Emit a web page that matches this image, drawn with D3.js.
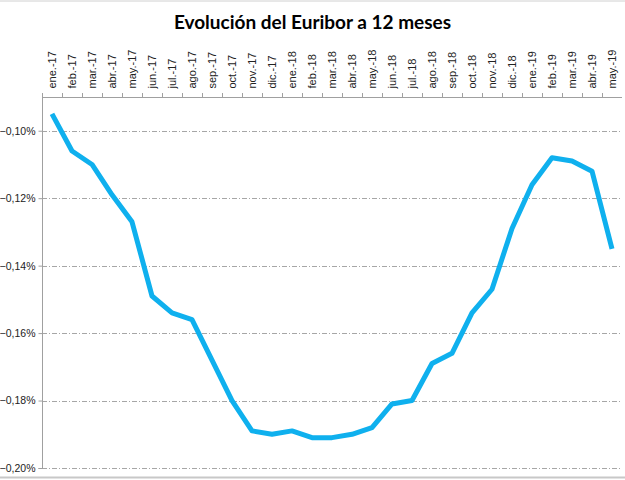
<!DOCTYPE html>
<html>
<head>
<meta charset="utf-8">
<script src="https://cdn.jsdelivr.net/npm/d3@7"></script>
<style>
body { margin: 0; background: #fff; }
</style>
</head>
<body>
<div id="chart"></div>
<script>
// meses y valores (Euribor 12m, %)
var months = ["ene.-17","feb.-17","mar.-17","abr.-17","may.-17","jun.-17","jul.-17","ago.-17","sep.-17","oct.-17","nov.-17","dic.-17",
  "ene.-18","feb.-18","mar.-18","abr.-18","may.-18","jun.-18","jul.-18","ago.-18","sep.-18","oct.-18","nov.-18","dic.-18",
  "ene.-19","feb.-19","mar.-19","abr.-19","may.-19"];
var euribor = [-0.095,-0.106,-0.110,-0.119,-0.127,-0.149,-0.154,-0.156,-0.168,-0.180,-0.189,-0.190,
  -0.189,-0.191,-0.191,-0.190,-0.188,-0.181,-0.180,-0.169,-0.166,-0.154,-0.147,-0.129,
  -0.116,-0.108,-0.109,-0.112,-0.135];
var yTicks = [-0.10,-0.12,-0.14,-0.16,-0.18,-0.20];

var svgWidth = 625, svgHeight = 480;
var plotL = 42, plotR = 622, plotT = 97, plotB = 468;

var svg = d3.select("#chart").append("svg").attr("width", svgWidth).attr("height", svgHeight)
  .style("font-family", "Lato, 'Open Sans', sans-serif");

// spreadsheet cell borders at top and bottom edge
svg.append("line").attr("x1", 0).attr("x2", svgWidth).attr("y1", 1).attr("y2", 1).attr("stroke", "#d0d0d0");
svg.append("line").attr("x1", 0).attr("x2", svgWidth).attr("y1", 477.5).attr("y2", 477.5).attr("stroke", "#c8c8c8").attr("stroke-width", 2);

var x = d3.scaleBand().domain(months).range([plotL, plotR]);
var y = d3.scaleLinear().domain([-0.20, -0.09]).range([plotB, plotT]);

// gridlines
svg.selectAll(".grid").data(yTicks).enter().append("line")
  .attr("x1", plotL).attr("x2", plotR)
  .attr("y1", d => Math.round(y(d)) + 0.5).attr("y2", d => Math.round(y(d)) + 0.5)
  .attr("stroke", "#a6a6a6").attr("stroke-dasharray", "5,2,1,2");

// y axis
var yAxis = d3.axisLeft(y).tickValues(yTicks).tickSize(4).tickPadding(3)
  .tickFormat(d => d3.format(".2f")(d).replace(".", ",") + "%");
var gy = svg.append("g").attr("transform", "translate(" + (plotL + 0.5) + ",0)").call(yAxis);
gy.select(".domain").attr("stroke", "#a0a0a0").attr("d", "M-4," + (plotB + 0.5) + "H0V" + plotT);
gy.selectAll(".tick line").attr("stroke", "#a0a0a0");
gy.selectAll(".tick text").attr("font-size", "10.5px").attr("fill", "#222");

// top axis with month labels
var gx = svg.append("g").attr("transform", "translate(0," + (plotT + 0.5) + ")")
  .call(d3.axisTop(x).tickSize(0).tickPadding(9));
gx.select(".domain").attr("stroke", "#a0a0a0").attr("d", "M" + plotL + ",0H" + plotR);
gx.selectAll(".tick text")
  .attr("font-size", "11px").attr("fill", "#222")
  .attr("transform", "rotate(-90)")
  .attr("text-anchor", "start")
  .attr("x", 9).attr("y", 0).attr("dy", "0.35em");
// separators between months
svg.selectAll(".sep").data(months).enter().append("line")
  .attr("x1", d => x(d) + 0.5).attr("x2", d => x(d) + 0.5)
  .attr("y1", plotT).attr("y2", plotT - 4)
  .attr("stroke", "#a0a0a0");

// line
var line = d3.line()
  .x((d, i) => x(months[i]) + x.bandwidth() / 2)
  .y(d => y(d));
svg.append("path").datum(euribor)
  .attr("d", line)
  .attr("fill", "none")
  .attr("stroke", "#0fb0ee")
  .attr("stroke-width", 5)
  .attr("stroke-linejoin", "round");

// title
svg.append("text")
  .attr("x", svgWidth / 2).attr("y", 29)
  .attr("text-anchor", "middle")
  .attr("font-size", "19px")
  .attr("font-weight", 700)
  .text("Evolución del Euribor a 12 meses");
</script>
</body>
</html>
